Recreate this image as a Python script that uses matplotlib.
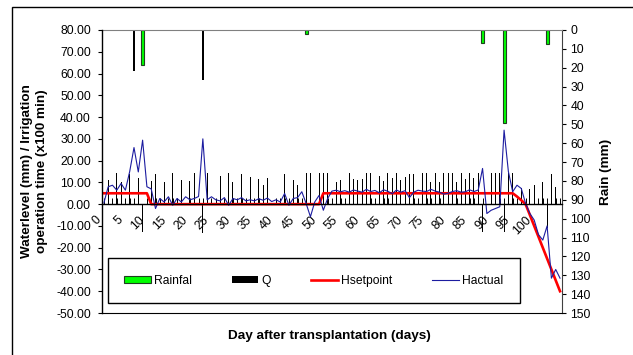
import numpy as np
import matplotlib
matplotlib.use("Agg")
import matplotlib.pyplot as plt
from matplotlib.patches import Rectangle
from matplotlib.ticker import FormatStrFormatter

plt.rcParams['font.family'] = ['Liberation Sans', 'DejaVu Sans']

days = np.arange(1, 108)

# irrigation operation time (x100 min), negative = drainage
q = [0, 11, 0, 14.5, 10, 0, 14, -13, 12, -13,
     0, 10.5, 14, 0, 10, 0, 14.5, 0, 11, 0,
     10.5, 14.5, 0, -13.3, 14.5, 0, 0, 13, 0, 14.5,
     10, 0, 14, 0, 12.5, 0, 11.5, 9, 12, 0,
     14.2, 0, 13.8, 0, 11, 9, 0, 14.2, 14.2, 0,
     14.2, 14.2, 14.2, 0, 10.4, 11, 0, 14.2, 11.5, 11,
     11.5, 14.2, 14.2, 10.5, 13, 10.5, 14.2, 12, 14.2, 11,
     12.5, 14, 14, 10, 14.2, 14.2, 10, 14.2, 10, 14.2,
     14.2, 14.2, 10, 14.2, 11.5, 14.2, 12, 14.2, -13, 0,
     14.2, 14.2, 14.2, -13, 14.2, 14.2, 14.2, 7.6, 0, 7,
     8.7, 0, 10, -11, 14, 8, 5.7]

hsetpoint = [5] * 11 + [0] * 40 + [5] * 45 + [3.5, 1.8, 0, -5, -10, -15, -20, -25, -30, -35, -40]

hactual = [0.5, 8, 8.7, 6.4, 9.5, 6.4, 15, 26, 14.8, 29.4,
           8, 7, -2, 2.6, 1, 3.4, -0.5, 2.6, 1, 3.4,
           2, 2.6, 3.5, 30, 2, 3.4, 2, 1.5, 3, -0.5,
           2.6, 2, 3, 1.5, 2, 1.5, 2.5, 1.8, 2.8, 1.2,
           2, 1, 4.9, -0.5, 2.6, 3, 5.7, 0.3, -5.8, 1,
           4, -2.8, 2.6, 6, 6.4, 5.7, 6.2, 5.5, 6.5, 6,
           5.5, 6.8, 5.8, 6.3, 5.2, 6.6, 5.9, 4.8, 6.5, 5.5,
           6.2, 3, 5.5, 6.4, 6, 5.8, 6.8, 6, 5.5, 4.6,
           5, 5.8, 6.2, 5.5, 5.7, 6.6, 5.8, 6.5, 16.4, -4.3,
           -2.8, -2, -1.2, 34, 15, 5.7, 8.7, 7.2, 0.3, -4.3,
           -7.3, -14, -16.5, -10, -34, -30, -34]

rain_days = [10, 48, 89, 94, 104]
rain_mm = [18.5, 2, 7, 49.5, 7.6]
rain_dark_days = [8, 24]
rain_dark_mm = [21.5, 26.5]

xtick_days = list(range(5, 101, 5))
left_ticks = list(range(-50, 81, 10))
right_ticks = list(range(0, 151, 10))

fig = plt.figure(figsize=(6.33, 3.55), dpi=100)
ax = fig.add_axes([0.1607, 0.1183, 0.7274, 0.7972])
ax2 = ax.twinx()
ax.set_zorder(ax2.get_zorder() + 1)
ax.patch.set_visible(False)

b_q = ax.bar(days, q, width=0.22, color='black', label='Q')
l_set, = ax.plot(days, hsetpoint, color='#ff0000', lw=1.9, label='Hsetpoint')
l_act, = ax.plot(days, hactual, color='#1c1ca0', lw=0.8, label='Hactual')

b_rain = ax2.bar(rain_days, rain_mm, width=0.7, color='#00ff00', edgecolor='#1f3f1f',
                 linewidth=0.8, label='Rainfal')
ax2.bar(rain_dark_days, rain_dark_mm, width=0.45, color='black')

ax.set_xlim(0.5, 107.5)
ax.set_ylim(-50, 80)
ax2.set_ylim(150, 0)

ax.set_yticks(left_ticks)
ax.yaxis.set_major_formatter(FormatStrFormatter('%.2f'))
ax.tick_params(axis='y', direction='out', length=3, width=0.8, pad=4.8, labelsize=8.7)
ax2.set_yticks(right_ticks)
ax2.tick_params(axis='y', direction='out', length=3, width=0.8, pad=3, labelsize=8.7)

ax.spines['bottom'].set_position(('data', 0))
ax.spines['bottom'].set_linewidth(1.0)
ax.spines['top'].set_visible(False)
ax.spines['right'].set_visible(False)
ax.spines['left'].set_linewidth(1.0)
ax2.spines['left'].set_visible(False)
ax2.spines['top'].set_color('#808080')
ax2.spines['bottom'].set_color('black')
ax2.spines['right'].set_color('#404040')

ax.set_xticks(days, minor=True)
ax.set_xticks(xtick_days)
ax.set_xticklabels([str(d) for d in xtick_days])
ax.tick_params(axis='x', which='minor', direction='in', length=4.3, width=0.7)
ax.tick_params(axis='x', which='major', length=0, pad=10, labelsize=8.7)
for t in ax.get_xticklabels():
    t.set_rotation(45)
    t.set_ha('right')
    t.set_va('center')
    t.set_rotation_mode('anchor')
ax.annotate('0', xy=(0, 0), xycoords='data', xytext=(0, -10), textcoords='offset points',
            rotation=45, ha='right', va='center', rotation_mode='anchor',
            fontsize=8.7, annotation_clip=False)

leg = ax.legend([b_rain, b_q, l_set, l_act], ['Rainfal', 'Q', 'Hsetpoint', 'Hactual'],
                ncol=4, loc='lower left', bbox_to_anchor=(0.013, 0.035), borderaxespad=0,
                fontsize=8.7, frameon=True, fancybox=False, edgecolor='black',
                framealpha=1, handlelength=2.2, handleheight=0.58, handletextpad=0.28,
                columnspacing=3.3, borderpad=1.35)
leg.get_frame().set_linewidth(1.0)

fig.text(0.0545, 0.517, 'Waterlevel (mm) / Irrigation\noperation time (x100 min)',
         rotation=90, ha='center', va='center', fontsize=9.7, fontweight='bold',
         multialignment='center', linespacing=1.4)
fig.text(0.9566, 0.517, 'Rain (mm)', rotation=90, ha='center', va='center',
         fontsize=9.7, fontweight='bold')
fig.text(0.521, 0.0535, 'Day after transplantation (days)', ha='center', va='center',
         fontsize=9.7, fontweight='bold')

fig.patches.append(Rectangle((12 / 633, -0.02), 1.0, 1 - 7 / 355 + 0.02,
                             transform=fig.transFigure, fill=False,
                             edgecolor='black', linewidth=1.0))

fig.savefig('out.png', dpi=100)
